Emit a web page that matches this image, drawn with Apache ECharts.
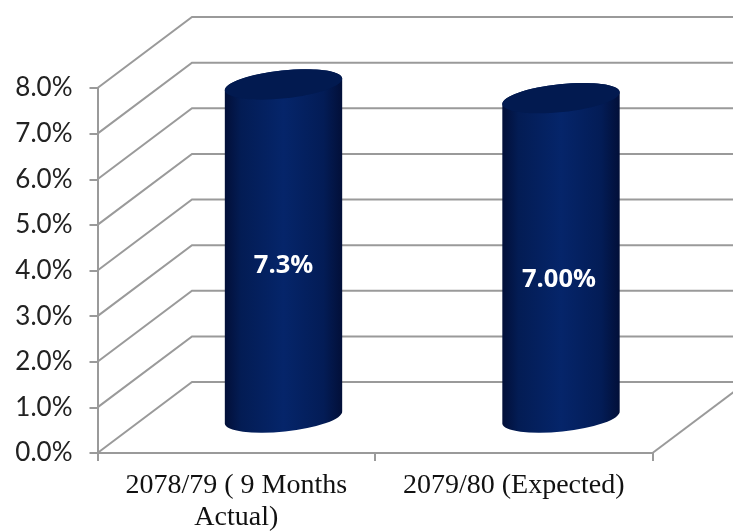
<!DOCTYPE html>
<html>
<head>
<meta charset="utf-8">
<style>html,body{margin:0;padding:0;background:#fff}#chart{width:733px;height:531px}</style>
<script src="https://cdn.jsdelivr.net/npm/echarts@6/dist/echarts.min.js"></script>
</head>
<body>
<div id="chart"></div>
<script>
// Chart content
const categories = ['2078/79 ( 9 Months\nActual)', '2079/80 (Expected)'];
const growth = [7.3, 7.0];
const growthLabels = ['7.3%', '7.00%'];
const yTicks = [0, 1, 2, 3, 4, 5, 6, 7, 8];

// Oblique projection of the chart box
const DEPTH_X = 94.5;
const DEPTH_Y = -71;
const LINE = '#9a9a9a';

// Cylinder shape
const RX = 59;
const RY = 14;
const TILT = -6;

const chart = echarts.init(document.getElementById('chart'), null, { renderer: 'canvas' });

// Back wall rules, their side wall diagonals, and the right floor edge
function renderWalls(params, api) {
  const v = api.value(0);
  const box = params.coordSys;
  const left = api.coord([0, v]);
  const x0 = box.x;
  const y = left[1];
  const style = { stroke: LINE, lineWidth: 2, fill: null };
  const children = [
    { type: 'polyline', shape: { points: [[x0, y], [x0 + DEPTH_X, y + DEPTH_Y], [x0 + box.width + DEPTH_X, y + DEPTH_Y]] }, style: style }
  ];
  if (v === 0) {
    children.push({
      type: 'line',
      shape: { x1: x0 + box.width, y1: y, x2: x0 + box.width + DEPTH_X, y2: y + DEPTH_Y },
      style: style
    });
  }
  return { type: 'group', children: children };
}

// One cylinder standing midway through the depth of the box
function renderCylinder(params, api) {
  const cat = api.value(0);
  const top = api.coord([cat, api.value(1)]);
  const base = api.coord([cat, 0]);
  const cx = top[0] + DEPTH_X / 2;
  const yTop = top[1] + DEPTH_Y / 2;
  const yBase = base[1] + DEPTH_Y / 2;
  const rad = TILT * Math.PI / 180;
  const ex = RX * Math.cos(rad);
  const ey = RX * Math.sin(rad);
  const body = 'M' + (cx - ex) + ' ' + (yTop - ey) +
    'L' + (cx - ex) + ' ' + (yBase - ey) +
    'A' + RX + ' ' + RY + ' ' + TILT + ' 0 0 ' + (cx + ex) + ' ' + (yBase + ey) +
    'L' + (cx + ex) + ' ' + (yTop + ey) +
    'A' + RX + ' ' + RY + ' ' + TILT + ' 0 0 ' + (cx - ex) + ' ' + (yTop - ey) + 'Z';
  const sideFill = new echarts.graphic.LinearGradient(0, 0, 1, 0, [
    { offset: 0, color: '#020f38' },
    { offset: 0.14, color: '#031c54' },
    { offset: 0.5, color: '#05256a' },
    { offset: 0.84, color: '#031c56' },
    { offset: 1, color: '#020f38' }
  ]);
  return {
    type: 'group',
    children: [
      { type: 'path', shape: { pathData: body }, style: { fill: sideFill } },
      {
        type: 'ellipse',
        shape: { cx: 0, cy: 0, rx: RX, ry: RY },
        x: cx, y: yTop, rotation: -rad,
        style: { fill: '#021a50' }
      }
    ]
  };
}

// Value captions sit a little below the middle of each cylinder
function renderCaption(params, api) {
  const cat = api.value(0);
  const p = api.coord([cat, api.value(1) / 2]);
  return {
    type: 'text',
    x: p[0] + DEPTH_X / 2 - (cat === 1 ? 2 : 0),
    y: p[1] + DEPTH_Y / 2 + 15 + (cat === 1 ? 7 : 0),
    style: {
      text: growthLabels[cat],
      fill: '#fff',
      font: 'bold 25.5px "Open Sans", sans-serif',
      align: 'center',
      verticalAlign: 'middle'
    }
  };
}

chart.setOption({
  animation: false,
  backgroundColor: '#fff',
  grid: { left: 97.5, right: 80.5, top: 88, bottom: 78, outerBoundsMode: 'none' },
  xAxis: {
    type: 'category',
    data: categories,
    axisLine: { lineStyle: { color: LINE, width: 2 } },
    axisTick: { show: true, length: 8, lineStyle: { color: LINE, width: 2 } },
    axisLabel: {
      color: '#111',
      fontFamily: '"Liberation Serif", serif',
      fontSize: 28,
      lineHeight: 32,
      margin: 17,
      interval: 0,
      hideOverlap: false
    },
    splitLine: { show: false }
  },
  yAxis: {
    type: 'value',
    min: 0,
    max: 8,
    interval: 1,
    axisLine: { show: true, lineStyle: { color: LINE, width: 2 } },
    axisTick: { show: true, length: 8, lineStyle: { color: LINE, width: 2 } },
    axisLabel: {
      color: '#222',
      fontFamily: 'Lato, sans-serif',
      fontSize: 26,
      margin: 25,
      formatter: function (v) { return v.toFixed(1) + '%'; }
    },
    splitLine: { show: false }
  },
  series: [
    {
      type: 'custom',
      coordinateSystem: 'cartesian2d',
      renderItem: renderWalls,
      data: yTicks.map(function (t) { return [t]; }),
      encode: { y: 0 },
      clip: false,
      silent: true,
      z: 1
    },
    {
      type: 'custom',
      coordinateSystem: 'cartesian2d',
      renderItem: renderCylinder,
      data: growth.map(function (v, i) { return [i, v]; }),
      encode: { x: 0, y: 1 },
      clip: false,
      z: 2
    },
    {
      type: 'custom',
      coordinateSystem: 'cartesian2d',
      renderItem: renderCaption,
      data: growth.map(function (v, i) { return [i, v]; }),
      encode: { x: 0, y: 1 },
      clip: false,
      z: 3
    }
  ]
});
</script>
</body>
</html>
